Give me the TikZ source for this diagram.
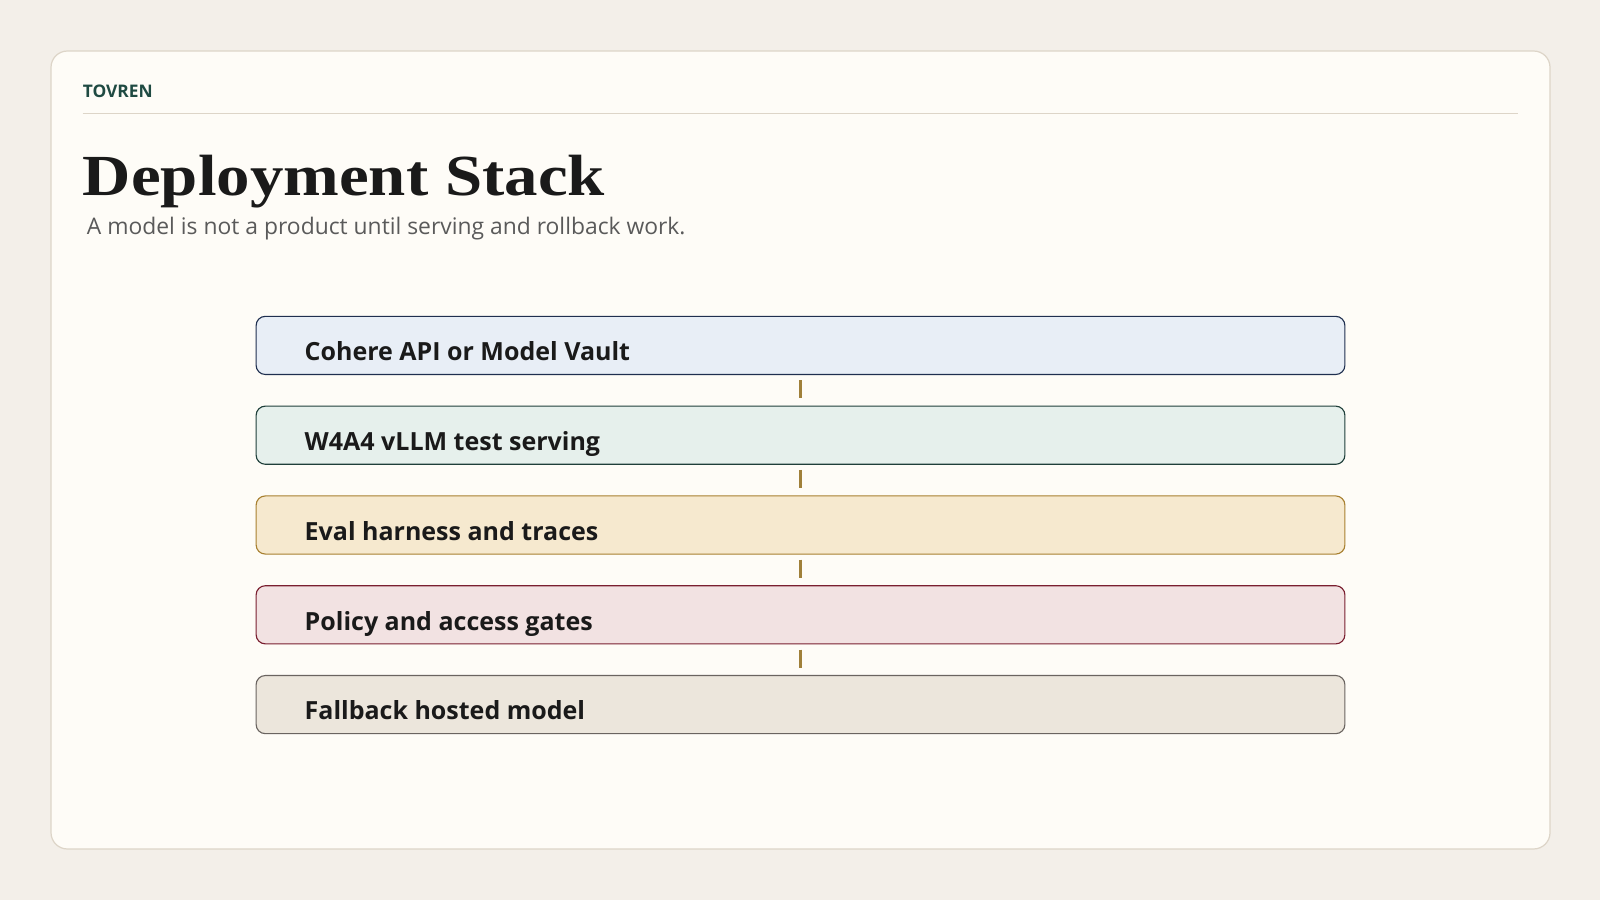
\documentclass[tikz,border=0pt]{standalone}
\usepackage{fontspec}
\setmainfont{Liberation Serif}
\setsansfont{Open Sans}
\usetikzlibrary{positioning}
\definecolor{PageBg}{HTML}{F3EFE9}
\definecolor{CardBg}{HTML}{FEFCF7}
\definecolor{CardLine}{HTML}{DDD5C8}
\definecolor{BrandGreen}{HTML}{1F4A42}
\definecolor{InkBlack}{HTML}{1A1A1A}
\definecolor{SubGray}{HTML}{5A5A5A}
\definecolor{LinkGold}{HTML}{A0803A}
\definecolor{VaultLine}{HTML}{1F2F4F}
\definecolor{VaultFill}{HTML}{E8EEF6}
\definecolor{ServeLine}{HTML}{1F3F3A}
\definecolor{ServeFill}{HTML}{E6F0EC}
\definecolor{EvalLine}{HTML}{A88030}
\definecolor{EvalFill}{HTML}{F6E9CF}
\definecolor{GateLine}{HTML}{7A1F30}
\definecolor{GateFill}{HTML}{F2E2E2}
\definecolor{BackLine}{HTML}{6A6460}
\definecolor{BackFill}{HTML}{ECE6DC}

\tikzset{
  layer/.style={draw, line width=1.1pt, rounded corners=9pt, minimum width=1067pt,
    minimum height=57pt, inner sep=0pt},
  layertext/.style={font=\sffamily\bfseries\fontsize{24.5}{27}\selectfont, text=InkBlack,
    anchor=base west, inner sep=0pt},
  link/.style={draw=LinkGold, line width=2.6pt, shorten <=5pt, shorten >=7pt}
}

\begin{document}
\begin{tikzpicture}[x=1pt, y=-1pt]
    % Fondo y tarjeta
    \fill[PageBg] (0,0) rectangle (1568,882);
    \useasboundingbox (0,0) rectangle (1568,882);
    \draw[CardLine, fill=CardBg, line width=1.2pt, rounded corners=16pt] (50,50) rectangle (1519,832);

    % Cabecera
    \node[anchor=base west, inner sep=0pt, font=\sffamily\bfseries\fontsize{17}{19}\selectfont, text=BrandGreen] (brand) at (81,96) {TOVREN};
    \draw[CardLine, line width=1.2pt] (81,111) -- (1488,111);
    \node[anchor=base west, inner sep=0pt, font=\bfseries\fontsize{57}{60}\selectfont, text=InkBlack] (title) at (81,192) {\scalebox{1.15}[1]{Deployment Stack}};
    \node[anchor=base west, inner sep=0pt, font=\sffamily\fontsize{22.4}{25}\selectfont, text=SubGray] (subtitle) at (85,230) {A model is not a product until serving and rollback work.};

    % Capas
    \node[layer, draw=VaultLine, fill=VaultFill] (cohere) at (784.5,338.5) {};
    \node[layer, draw=ServeLine, fill=ServeFill] (vllm) at (784.5,426.5) {};
    \node[layer, draw=EvalLine, fill=EvalFill] (evals) at (784.5,514.5) {};
    \node[layer, draw=GateLine, fill=GateFill] (policy) at (784.5,602.5) {};
    \node[layer, draw=BackLine, fill=BackFill] (fallback) at (784.5,690.5) {};

    % Etiquetas
    \node[layertext] at ([xshift=48pt, yshift=-15pt]cohere.west) {Cohere API or Model Vault};
    \node[layertext] at ([xshift=48pt, yshift=-15pt]vllm.west) {W4A4 vLLM test serving};
    \node[layertext] at ([xshift=48pt, yshift=-15pt]evals.west) {Eval harness and traces};
    \node[layertext] at ([xshift=48pt, yshift=-15pt]policy.west) {Policy and access gates};
    \node[layertext] at ([xshift=48pt, yshift=-15pt]fallback.west) {Fallback hosted model};

    % Conectores
    \draw[link] (cohere) -- (vllm);
    \draw[link] (vllm) -- (evals);
    \draw[link] (evals) -- (policy);
    \draw[link] (policy) -- (fallback);
\end{tikzpicture}
\end{document}
